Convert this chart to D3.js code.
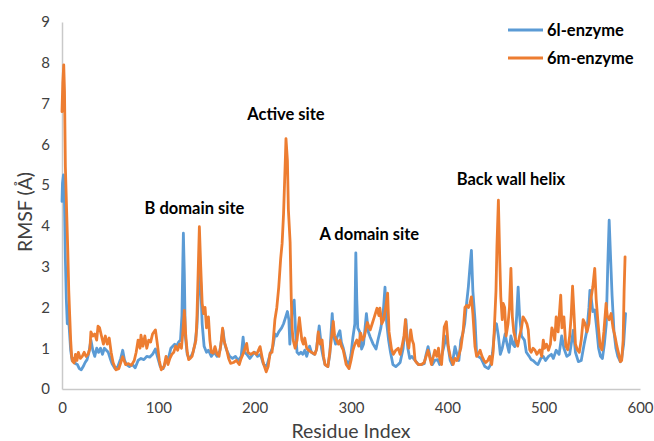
<!DOCTYPE html>
<html><head><meta charset="utf-8">
<script src="https://cdn.jsdelivr.net/npm/d3@7"></script>
<style>body{margin:0;background:#fff;} svg{display:block;} text{font-family:Lato,"Open Sans",sans-serif;}</style>
</head><body>
<svg id="chart" width="654" height="441"></svg>
<script>
const seriesNames = ["6l-enzyme", "6m-enzyme"];
const xTicks = [0, 100, 200, 300, 400, 500, 600];
const yTicks = [0, 1, 2, 3, 4, 5, 6, 7, 8, 9];
const annotationLabels = ["B domain site", "Active site", "A domain site", "Back wall helix"];
const annotationResidue = [137.5, 232.5, 319, 466];
const annotationRmsf = [4.3, 6.6, 3.65, 5.0];

const blueResidues = [0,0.5,1.5,2.5,3.5,4.5,5.5,6.5,7.5,9,10.5,12,14,16,18,20,22,24,26,28,30,32,34,36,38,40,42,44,46,48,50,52,55,58,61,63,65,67,70,73,76,79,82,85,88,91,94,97,99,102,105,108,111,113,115,117,119,121,123,124.5,125.5,126,127,128,130,132,134,136,138,140,141.5,143,144,145.5,147.5,150,152,155,158,161,164,167,169,171,174,177,180,183,186,188,189.5,192,195,198,200,203,206,209,211,213,216,219,221,223,225,228,230,232,234,235.5,236.5,238,239.5,241,242.5,244,246,248,250,252,254,257,259,262,264,267,269.5,271,273,276,278,280.5,282,284,285.5,288.5,290,292,295,298,300,302,304,305,306,307,309,311,313,316,318,320,323,326,328,331,333.5,335.3,337,339,341,343.5,346.5,349,351,354,357,359,361,363,366.5,370,373,376,378,380,382,384.5,387,390,392,394,396,399,401,403,405,408,410,412,414,416,418,420,421.8,423.5,425,426.5,428.7,430.4,432,435,437,439,442.6,445,447,449.4,451,453,455,457,460,462,464,466,468,470,472,473.5,475,477,480,482,485,487,489,492,494,497,499.6,502,505,508,510,513,516,518.7,521,524,527,530.8,533,536,539,542,545,547,548,549.5,551,553,555,557,559,561,563,565,566.5,568,569.5,571,573,575,577,579.6,581,583,585];
const blueRmsf = [4.6,5.05,5.25,4.7,3.2,2.2,1.6,2.0,1.5,0.95,0.7,0.75,0.62,0.6,0.5,0.47,0.55,0.65,0.72,0.9,1.2,0.95,0.8,1.0,0.9,1.0,0.85,1.0,0.95,0.9,0.75,0.62,0.5,0.55,0.75,0.95,0.7,0.6,0.55,0.6,0.52,0.7,0.75,0.72,0.8,0.78,0.85,0.98,0.8,0.55,0.5,0.7,0.8,1.0,1.05,1.1,1.05,1.15,1.2,1.8,3.2,3.82,2.8,1.3,0.85,0.75,0.8,0.9,1.1,1.5,2.3,3.0,2.6,1.6,1.05,0.9,0.95,0.8,0.9,0.8,0.95,1.45,1.1,0.95,0.8,0.75,0.8,0.7,0.8,1.27,0.9,0.85,0.75,0.85,0.9,0.8,0.85,0.62,0.55,0.6,0.85,1.05,1.35,1.3,1.4,1.5,1.6,1.75,1.9,1.7,1.1,1.6,2.1,2.18,1.4,0.9,0.85,0.9,0.85,0.95,0.8,1.05,0.9,0.85,0.95,1.55,0.98,0.8,0.6,0.55,0.85,1.85,1.3,1.1,1.27,1.43,1.15,1.0,0.7,0.6,0.85,1.27,1.6,3.34,2.2,1.5,1.4,0.98,1.1,1.85,1.4,1.27,1.1,0.98,1.2,1.5,1.9,2.5,1.63,1.2,0.9,0.6,0.55,0.6,0.65,0.98,1.7,1.0,0.75,0.8,0.7,0.6,0.6,0.62,0.85,1.04,0.8,0.6,0.7,0.72,0.6,0.8,1.0,1.3,1.0,0.7,0.6,1.04,0.85,0.7,1.2,1.35,1.6,2.1,2.5,3.0,3.4,2.4,1.7,0.85,0.8,0.75,0.65,0.55,0.5,0.6,0.9,1.5,1.6,1.3,0.85,1.0,1.35,1.1,0.9,1.3,1.1,1.04,1.8,2.5,1.8,1.3,1.2,0.9,0.8,0.72,0.7,0.63,0.6,0.75,0.8,0.7,0.8,0.85,0.75,0.95,0.85,1.3,1.0,0.8,0.85,1.44,0.9,0.67,0.7,1.1,1.45,2.0,2.42,2.2,1.9,1.94,1.5,1.0,0.8,0.75,1.1,1.6,3.0,4.14,3.2,2.3,1.4,1.0,0.8,0.67,0.75,1.1,1.85];

const orangeResidues = [0,0.8,1.8,2.6,3.5,5,6,7,8,9,10,11,12.5,14,15.5,17,19,21,23,25,27,29,30,32,34,36,37.4,39,41,43,45,47,49,51,53,56,59,61,63,66,69,72,75,77,79,81,82,84,86,88,90,92,94,97,99,101,103,106,108,110,112,114,116,118,120,122,124,125.5,127,128.5,130,131.5,133,135,137,139,140,141.5,142.6,144,145.5,147,148.5,150,152,153.5,155,157,158.8,161,163,165,166.7,168,171,173,175,178,181,184,186,188.3,190,191.7,193,196,199,202,205.6,207.5,209,212,214,216,218,219.3,221,223,225,227,228.5,230,232,232.5,234,235,236.8,238,239,240,242,244,246.4,248,249,250.5,252,254,256,259,262.6,264.5,266,268,270,271.5,273,276,278,280,281.6,283,285,287,288.5,290,292,295,298,300,302,304,306,308,310,312,314,317,319,320,322,324,327,329,330,332,334,336,338,339.5,342,344,346.5,349,351,353,355,356.5,358,360,362,363.5,365,366.5,368,370,373,376,378.6,380,382,383.5,385.5,387,389,390.8,392,394,396.8,399,401,403,404.6,406,408,410,412,414,416.5,418.3,420,422,423.5,425,426.5,428.7,430.4,432,434,436,438,440,442,444,446,447.5,448.7,450.5,451.5,453,454.5,455.5,457,458,459.5,461,463,464.5,466,467.5,469,471,473,475,477,478.6,480.5,482.6,484,485.5,487,489,491,493,496,498,499.6,501,503,505,507,508.5,510,511.5,513,515,517.7,519,521,523,525,527,528.5,530,531.5,533,535,537,539,541,543,545,547,549,551,553,554.5,556.5,558.6,560.5,562.5,564.8,566,568,570,572,574,576,578,579.6,581,582.5,583.5,584.5];
const orangeRmsf = [6.8,7.5,7.95,7.3,5.45,4.22,3.4,2.43,1.8,1.2,0.8,0.68,0.64,0.85,0.7,0.9,0.75,0.8,0.9,0.8,0.85,1.0,1.4,1.3,1.35,1.2,1.54,1.5,1.3,1.1,1.3,1.1,1.25,0.9,0.65,0.47,0.5,0.65,0.79,0.6,0.62,0.58,0.7,0.9,1.2,1.0,1.32,1.05,1.3,1.0,1.2,1.15,1.35,1.45,1.1,0.7,0.47,0.55,0.8,0.6,0.75,0.85,0.9,1.05,0.95,1.1,1.0,1.4,1.93,1.3,0.9,0.72,0.75,0.8,1.0,1.2,1.69,3.0,3.98,3.0,2.1,1.85,2.0,1.5,1.77,1.2,0.9,0.88,1.04,0.85,0.8,1.1,1.49,1.2,0.96,0.75,0.63,0.65,0.7,0.6,0.75,0.88,1.0,1.12,0.9,0.85,0.9,0.85,1.04,0.8,0.63,0.42,0.55,0.88,0.9,1.2,1.7,2.0,2.5,3.2,3.57,4.3,5.75,6.14,5.6,4.4,3.6,2.2,1.45,1.2,1.0,1.2,1.75,1.4,1.2,1.1,1.25,1.0,0.95,0.9,0.85,1.0,1.4,1.1,1.2,0.8,0.6,0.55,0.9,1.3,1.66,1.3,1.2,1.1,1.2,1.05,0.95,0.6,0.5,0.7,0.95,1.1,1.2,1.05,1.37,1.2,1.3,1.63,1.5,1.45,1.6,1.75,1.98,1.8,1.98,1.6,1.7,2.0,2.35,1.4,0.98,0.85,0.95,1.0,0.85,1.05,1.3,1.7,1.2,1.0,1.45,1.2,1.1,0.7,0.65,0.6,0.6,0.65,0.85,0.95,0.75,0.6,0.8,0.95,0.8,1.0,0.75,0.6,1.52,1.65,1.04,0.8,0.7,0.6,0.75,0.7,0.83,1.0,1.44,2.0,2.05,2.0,2.1,2.26,1.85,1.04,0.8,0.85,0.95,0.8,0.7,0.65,0.7,0.8,0.6,0.9,1.44,2.4,3.5,4.63,3.1,2.26,1.7,2.1,2.0,1.3,1.6,2.0,2.96,1.77,1.4,1.2,1.05,1.3,1.5,1.77,1.7,1.6,1.45,0.96,0.9,1.0,0.95,0.85,0.96,0.8,1.2,1.0,1.1,0.95,1.1,1.5,1.4,1.2,1.77,1.4,2.3,1.5,1.77,1.05,0.96,1.3,1.77,2.52,1.85,1.1,0.96,0.9,1.2,1.7,1.6,1.4,1.6,2.2,2.5,2.96,2.2,1.6,1.05,0.96,1.4,2.1,1.8,1.7,1.85,1.5,1.3,1.05,0.85,0.67,0.7,1.2,2.4,3.24];

const colors = ["#5B9BD5", "#ED7D31"];
const svg = d3.select("#chart");
const x = d3.scaleLinear().domain([0, 600]).range([62, 640]);
const y = d3.scaleLinear().domain([0, 9]).range([389, 22]);

// axes
const axisColor = "#c9c9c9";
const xAxis = svg.append("g").attr("transform", `translate(0,${y(0)})`)
  .call(d3.axisBottom(x).tickValues(xTicks).tickSize(0).tickPadding(13).tickFormat(d3.format("d")));
const yAxis = svg.append("g").attr("transform", `translate(${x(0)},0)`)
  .call(d3.axisLeft(y).tickValues(yTicks).tickSize(0).tickPadding(12).tickFormat(d3.format("d")));
[xAxis, yAxis].forEach(g => {
  g.select(".domain").attr("stroke", axisColor).attr("stroke-width", 1.5);
  g.selectAll("text").attr("font-size", 15).attr("fill", "#404040").attr("font-family", "Lato, 'Open Sans', sans-serif");
});

// series
const series = [
  {name: seriesNames[0], xs: blueResidues, ys: blueRmsf, color: colors[0]},
  {name: seriesNames[1], xs: orangeResidues, ys: orangeRmsf, color: colors[1]}
];
const line = d3.line().x(d => x(d[0])).y(d => y(d[1]));
series.forEach(s => {
  const pts = s.xs.map((r, i) => [r, s.ys[i]]);
  svg.append("path").datum(pts).attr("d", line)
    .attr("fill", "none").attr("stroke", s.color).attr("stroke-width", 2.8)
    .attr("stroke-linejoin", "round").attr("stroke-linecap", "round");
});

// axis titles
svg.append("text").attr("x", 351).attr("y", 438).attr("text-anchor", "middle")
  .attr("font-size", 19.5).attr("fill", "#404040").text("Residue Index");
svg.append("text").attr("transform", "translate(32,212) rotate(-90)").attr("text-anchor", "middle")
  .attr("font-size", 19.5).attr("fill", "#404040").text("RMSF (Å)");

// annotations
annotationLabels.forEach((t, i) => {
  svg.append("text").attr("x", x(annotationResidue[i])).attr("y", y(annotationRmsf[i]))
    .attr("text-anchor", "middle").attr("font-size", 16.5).attr("font-weight", "bold")
    .attr("fill", "#000").text(t);
});

// legend
series.forEach((s, i) => {
  const ly = 30 + i * 28;
  svg.append("line").attr("x1", 508).attr("x2", 543).attr("y1", ly).attr("y2", ly)
    .attr("stroke", s.color).attr("stroke-width", 2.8);
  svg.append("text").attr("x", 547).attr("y", ly + 6).attr("font-size", 16.5)
    .attr("font-weight", "bold").attr("fill", "#000").text(s.name);
});
</script>
</body></html>
